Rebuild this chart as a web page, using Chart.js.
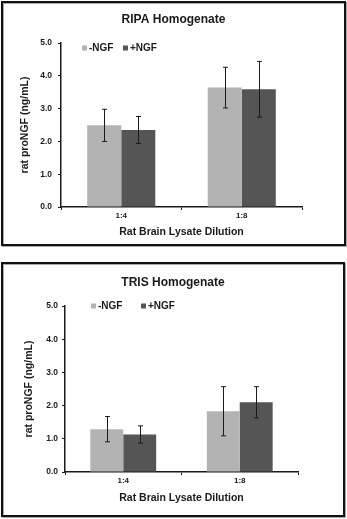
<!DOCTYPE html>
<html>
<head>
<meta charset="utf-8">
<script src="https://cdn.jsdelivr.net/npm/chart.js@4.4.1/dist/chart.umd.min.js"></script>
<style>
  body { margin: 0; background: #fff; width: 347px; height: 519px; position: relative; overflow: hidden; }
  .panel { position: absolute; box-sizing: border-box; border: 2px solid #111; box-shadow: inset 1px 1px 0 #aaa, 1px 1px 0 #aaa; background: #fff; }
  .panel canvas { display: block; }
</style>
</head>
<body>
<div class="panel" style="left:1px;top:1px;width:345px;height:245px"><canvas id="ripa" width="341" height="241"></canvas></div>
<div class="panel" style="left:1px;top:262px;width:344px;height:255px"><canvas id="tris" width="340" height="251"></canvas></div>
<script>
const categories = ["1:4", "1:8"];
const seriesNames = ["-NGF", "+NGF"];

// RIPA homogenate
const ripaMinus = [2.49, 3.64];
const ripaMinusErr = [0.49, 0.62];
const ripaPlus = [2.35, 3.59];
const ripaPlusErr = [0.41, 0.85];

// TRIS homogenate
const trisMinus = [1.29, 1.83];
const trisMinusErr = [0.38, 0.74];
const trisPlus = [1.13, 2.10];
const trisPlusErr = [0.26, 0.47];

const yMin = 0;
const yMax = 5;
const yStep = 1;

const lightGray = "#b3b3b3";
const darkGray = "#555555";
const ink = "#1a1a1a";
const fam = "'Liberation Sans', Arial, sans-serif";

// error bars drawn through the y scale
const errorBars = {
  id: "errorBars",
  afterDatasetsDraw(chart) {
    const ctx = chart.ctx;
    const y = chart.scales.y;
    ctx.save();
    ctx.strokeStyle = ink;
    ctx.lineWidth = 1;
    chart.data.datasets.forEach(function (ds, i) {
      const meta = chart.getDatasetMeta(i);
      meta.data.forEach(function (bar, j) {
        const v = ds.data[j];
        const e = ds.errors[j];
        const x = Math.round(bar.x) + 0.5;
        const top = y.getPixelForValue(v + e);
        const bot = y.getPixelForValue(v - e);
        ctx.beginPath();
        ctx.moveTo(x, top);
        ctx.lineTo(x, bot);
        ctx.moveTo(x - 2.5, top);
        ctx.lineTo(x + 2.5, top);
        ctx.moveTo(x - 2.5, bot);
        ctx.lineTo(x + 2.5, bot);
        ctx.stroke();
      });
    });
    ctx.restore();
  },
};

// small square legend sitting inside the plot area
const boxLegend = {
  id: "boxLegend",
  afterDraw(chart, args, opts) {
    const ctx = chart.ctx;
    const area = chart.chartArea;
    ctx.save();
    ctx.font = "bold 10px " + fam;
    ctx.textBaseline = "middle";
    ctx.textAlign = "left";
    chart.data.datasets.forEach(function (ds, i) {
      const x = area.left + opts.xs[i];
      const cy = area.top + opts.y;
      ctx.fillStyle = ds.backgroundColor;
      ctx.fillRect(x, cy - 2.5, 5, 5);
      ctx.fillStyle = ink;
      ctx.fillText(ds.label, x + 7, cy + 0.5);
    });
    ctx.restore();
  },
};

function drawPanel(id, title, minus, minusErr, plus, plusErr, lay) {
  const canvas = document.getElementById(id);
  const W = canvas.width;
  const H = canvas.height;
  new Chart(canvas, {
    type: "bar",
    data: {
      labels: categories,
      datasets: [
        { label: seriesNames[0], data: minus, errors: minusErr, backgroundColor: lightGray },
        { label: seriesNames[1], data: plus, errors: plusErr, backgroundColor: darkGray },
      ],
    },
    options: {
      responsive: false,
      animation: false,
      devicePixelRatio: 1,
      categoryPercentage: 0.565,
      barPercentage: 1,
      layout: { padding: 0 },
      plugins: {
        legend: { display: false },
        tooltip: { enabled: false },
        title: {
          display: true,
          text: title,
          color: ink,
          font: { family: fam, size: 12, weight: "bold" },
          padding: { top: lay.titleTop, bottom: lay.top - lay.titleTop - 14.4 },
        },
        boxLegend: { xs: lay.legendXs, y: lay.legendY },
      },
      scales: {
        x: {
          border: { color: ink, width: 1.5 },
          grid: { display: true, drawOnChartArea: false, drawTicks: true, tickLength: 3, color: ink, offset: true },
          ticks: { color: ink, padding: 1, font: { family: fam, size: 8, weight: "bold" } },
          title: {
            display: true,
            text: "Rat Brain Lysate Dilution",
            color: ink,
            font: { family: fam, size: 10.5, weight: "bold" },
            padding: { top: 0, bottom: lay.xTitleBottom },
          },
          afterFit(scale) { scale.height = H - lay.bottom; },
        },
        y: {
          min: yMin,
          max: yMax,
          border: { color: ink, width: 1.5 },
          grid: { display: true, drawOnChartArea: false, drawTicks: true, tickLength: 3, color: ink },
          ticks: {
            stepSize: yStep,
            color: ink,
            padding: lay.yTickPad,
            font: { family: fam, size: 8.5, weight: "bold" },
            callback: function (v) { return v.toFixed(1); },
          },
          title: {
            display: true,
            text: "rat proNGF (ng/mL)",
            color: ink,
            font: { family: fam, size: 10.5, weight: "bold" },
            padding: { top: lay.yTitleTop, bottom: 0 },
          },
          afterFit(scale) { scale.width = lay.left; },
        },
        // empty right-hand axis, only reserves the blank margin so the title stays centred
        spare: {
          position: "right",
          display: true,
          grid: { display: false },
          border: { display: false },
          ticks: { display: false },
          afterFit(scale) { scale.width = W - lay.right; },
        },
      },
    },
    plugins: [errorBars, boxLegend],
  });
}

drawPanel("ripa", "RIPA Homogenate", ripaMinus, ripaMinusErr, ripaPlus, ripaPlusErr, {
  left: 58, right: 299, top: 40, bottom: 204,
  titleTop: 9.8, xTitleBottom: 5.7, yTitleTop: 15.7, yTickPad: 6,
  legendXs: [21, 62], legendY: 5,
});

drawPanel("tris", "TRIS Homogenate", trisMinus, trisMinusErr, trisPlus, trisPlusErr, {
  left: 62, right: 295, top: 42, bottom: 208,
  titleTop: 11.8, xTitleBottom: 10.7, yTitleTop: 19.7, yTickPad: 4,
  legendXs: [26, 76], legendY: 0,
});
</script>
</body>
</html>
